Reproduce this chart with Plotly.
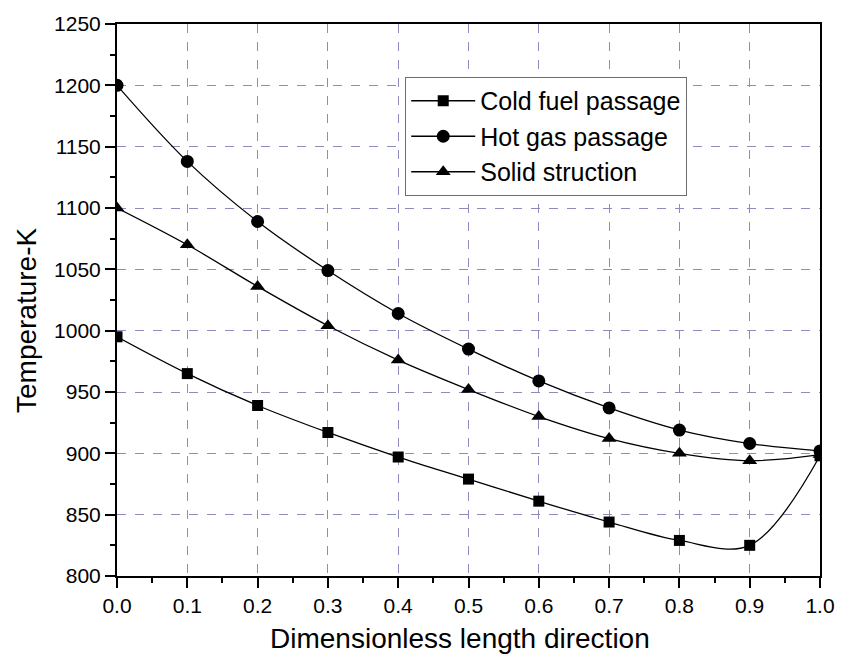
import plotly.graph_objects as go

# Dimensionless position along the passage
x_pos = [0.0, 0.1, 0.2, 0.3, 0.4, 0.5, 0.6, 0.7, 0.8, 0.9, 1.0]

# Temperatures (K)
cold_fuel = [995, 965, 939, 917, 897, 879, 861, 844, 829, 825, 898]
hot_gas = [1200, 1138, 1089, 1049, 1014, 985, 959, 937, 919, 908, 902]
solid = [1100, 1070, 1036, 1004, 976, 952, 930, 912, 900, 894, 899]

series = [
    ("Cold fuel passage", cold_fuel, "square", 11),
    ("Hot gas passage", hot_gas, "circle", 13),
    ("Solid struction", solid, "triangle-up", 13),
]

font_family = "Liberation Sans, Arial, sans-serif"
grid_color = "rgb(140,140,190)"

fig = go.Figure()
for name, vals, sym, size in series:
    fig.add_trace(go.Scatter(
        x=x_pos, y=vals, name=name, mode="lines+markers",
        line=dict(color="black", width=1.3, shape="spline", smoothing=1.0),
        marker=dict(symbol=sym, size=size, color="black"),
    ))

axis_common = dict(
    showline=True, linecolor="black", linewidth=2, mirror=True,
    ticks="outside", ticklen=10, tickwidth=2, tickcolor="black",
    showgrid=True, gridcolor=grid_color, griddash="dash", gridwidth=1,
    zeroline=False,
    tickfont=dict(family=font_family, size=21, color="black"),
)

fig.update_xaxes(
    range=[0, 1.0], dtick=0.1, tickformat=".1f",
    minor=dict(ticks="outside", ticklen=5, tickwidth=2, tickcolor="black",
               dtick=0.05, showgrid=False),
    **axis_common,
)
fig.update_yaxes(
    range=[800, 1250], dtick=50,
    minor=dict(ticks="outside", ticklen=5, tickwidth=2, tickcolor="black",
               dtick=25, showgrid=False),
    **axis_common,
)

title_font = dict(family=font_family, size=28, color="black")
fig.add_annotation(
    text="Dimensionless length direction", xref="paper", yref="paper",
    x=0.5, y=0, xanchor="center", yanchor="middle",
    xshift=-9, yshift=-62, showarrow=False, font=title_font,
)
fig.add_annotation(
    text="Temperature-K", xref="paper", yref="paper",
    x=0, y=0.5, xanchor="center", yanchor="middle", textangle=-90,
    xshift=-91, yshift=-20, showarrow=False, font=title_font,
)

fig.update_layout(
    width=847, height=661,
    margin=dict(l=117, r=18, t=24, b=85),
    plot_bgcolor="white", paper_bgcolor="white",
    font=dict(family=font_family, color="black"),
    legend=dict(
        x=0.41, y=0.904, xanchor="left", yanchor="top",
        bgcolor="white", bordercolor="rgb(110,110,110)", borderwidth=1,
        font=dict(family=font_family, size=25, color="black"),
        tracegroupgap=0, itemwidth=64,
    ),
)

fig.write_html("out.html")
